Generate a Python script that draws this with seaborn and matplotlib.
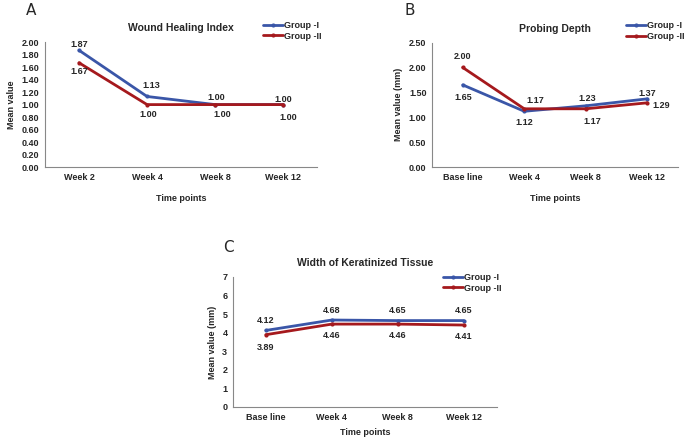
import matplotlib
matplotlib.use("Agg")
import matplotlib.pyplot as plt
import pandas as pd
import seaborn as sns

# ---- data ----
whi_times = ["Week 2", "Week 4", "Week 8", "Week 12"]
whi_group1 = [1.87, 1.13, 1.00, 1.00]
whi_group2 = [1.67, 1.00, 1.00, 1.00]

pd_times = ["Base line", "Week 4", "Week 8", "Week 12"]
pd_group1 = [1.65, 1.12, 1.23, 1.37]
pd_group2 = [2.00, 1.17, 1.17, 1.29]

kt_times = ["Base line", "Week 4", "Week 8", "Week 12"]
kt_group1 = [4.12, 4.68, 4.65, 4.65]
kt_group2 = [3.89, 4.46, 4.46, 4.41]

groups = ["Group -I", "Group -II"]
palette = {"Group -I": "#3a56a8", "Group -II": "#a5191d"}

sns.set_style("white")
plt.rcParams["font.family"] = ["Liberation Sans", "DejaVu Sans"]
plt.rcParams["font.weight"] = "bold"


def long_frame(times, g1, g2):
    rows = []
    for name, vals in zip(groups, [g1, g2]):
        for t, v in zip(times, vals):
            rows.append({"time": t, "value": v, "group": name})
    return pd.DataFrame(rows)


def draw_panel(ax, df, title, ylabel, yticks, fmt, labels_g1, labels_g2,
               off_g1, off_g2, legend_anchor, letter, letter_xy, xpad=9):
    sns.lineplot(data=df, x="time", y="value", hue="group", palette=palette,
                 marker="o", markersize=3, markeredgewidth=0, linewidth=2,
                 sort=False, ax=ax, legend=True)
    ax.set_xlim(-0.5, 3.5)
    ax.set_ylim(yticks[0], yticks[-1])
    ax.set_yticks(yticks)
    ax.set_yticklabels([fmt.format(t) for t in yticks])
    ax.tick_params(axis="both", labelsize=6.5, length=0, pad=4)
    for lab in ax.get_xticklabels() + ax.get_yticklabels():
        lab.set_fontweight("bold")
    for s in ["top", "right"]:
        ax.spines[s].set_visible(False)
    for s in ["left", "bottom"]:
        ax.spines[s].set_color("#888888")
        ax.spines[s].set_linewidth(0.8)
    ax.set_title(title, fontsize=7.5, fontweight="bold", pad=8)
    ax.set_xlabel("Time points", fontsize=6.5, fontweight="bold", labelpad=xpad)
    ax.set_ylabel(ylabel, fontsize=6.5, fontweight="bold", labelpad=4)

    for i, (lab, v) in enumerate(labels_g1):
        ax.annotate(lab, (i, v), xytext=off_g1[i], textcoords="offset points",
                    ha="center", va="center", fontsize=6.5, fontweight="bold")
    for i, (lab, v) in enumerate(labels_g2):
        ax.annotate(lab, (i, v), xytext=off_g2[i], textcoords="offset points",
                    ha="center", va="center", fontsize=6.5, fontweight="bold")

    handles, labs = ax.get_legend_handles_labels()
    ax.legend(handles, labs, loc="upper right", bbox_to_anchor=legend_anchor,
              frameon=False, fontsize=6.5, handlelength=2.2, handletextpad=0.1,
              labelspacing=0.2, borderaxespad=0)
    ax.figure.text(letter_xy[0], letter_xy[1], letter, fontsize=11,
                   fontweight="normal", family="DejaVu Sans",
                   ha="center", va="center")


fig = plt.figure(figsize=(6.89, 4.38), dpi=100)

ax_a = fig.add_axes([0.0653, 0.6187, 0.395, 0.285])
ax_b = fig.add_axes([0.627, 0.6187, 0.357, 0.284])
ax_c = fig.add_axes([0.338, 0.0708, 0.383, 0.297])

draw_panel(
    ax_a, long_frame(whi_times, whi_group1, whi_group2),
    "Wound Healing Index", "Mean value",
    [0.0, 0.2, 0.4, 0.6, 0.8, 1.0, 1.2, 1.4, 1.6, 1.8, 2.0], "{:.2f}",
    [(f"{v:.2f}", v) for v in whi_group1], [(f"{v:.2f}", v) for v in whi_group2],
    [(0, 4), (3, 8), (1, 5), (0, 4)], [(0, -6), (1, -7), (5, -7), (4, -9)],
    (1.03, 1.2), "A", (0.045, 0.975),
)

draw_panel(
    ax_b, long_frame(pd_times, pd_group1, pd_group2),
    "Probing Depth", "Mean value (mm)",
    [0.0, 0.5, 1.0, 1.5, 2.0, 2.5], "{:.2f}",
    [(f"{v:.2f}", v) for v in pd_group1], [(f"{v:.2f}", v) for v in pd_group2],
    [(0, -9), (0, -8), (1, 5), (0, 4)], [(0, 8), (8, 6), (5, -9), (10, -2)],
    (1.04, 1.2), "B", (0.595, 0.975),
)

draw_panel(
    ax_c, long_frame(kt_times, kt_group1, kt_group2),
    "Width of Keratinized Tissue", "Mean value (mm)",
    [0, 1, 2, 3, 4, 5, 6, 7], "{:d}",
    [(f"{v:.2f}", v) for v in kt_group1], [(f"{v:.2f}", v) for v in kt_group2],
    [(0, 7), (0, 7), (0, 7), (0, 7)], [(0, -9), (0, -8), (0, -8), (0, -8)],
    (1.03, 1.06), "C", (0.332, 0.435), xpad=5,
)

fig.savefig("out.png", dpi=100)
